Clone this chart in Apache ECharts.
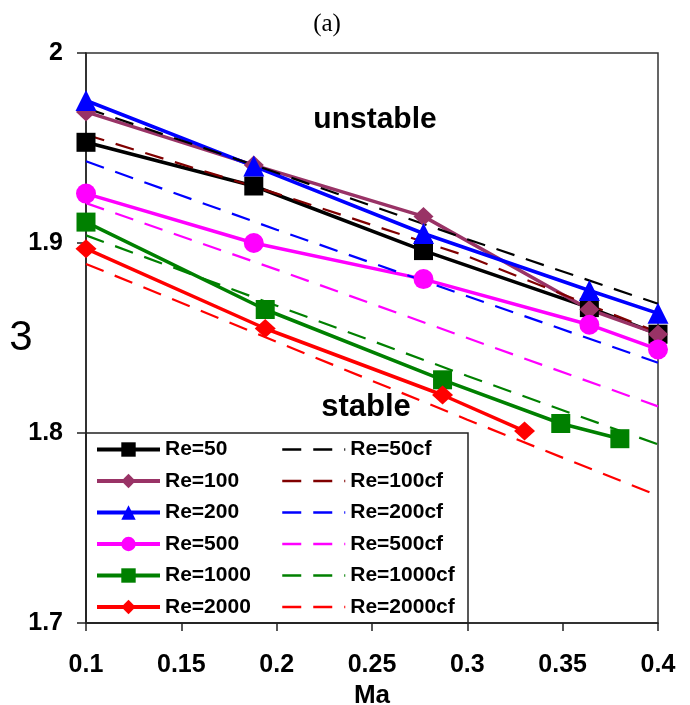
<!DOCTYPE html>
<html>
<head>
<meta charset="utf-8">
<script src="https://cdn.jsdelivr.net/npm/echarts@6/dist/echarts.min.js"></script>
<style>
  html, body { margin: 0; padding: 0; background: #fff; }
  #chart { width: 690px; height: 705px; }
</style>
</head>
<body>
<div id="chart"></div>
<script>
// Mach number positions of the computed points
const maRe50 = [0.1, 0.188, 0.277, 0.364, 0.4];
const maRe100 = [0.1, 0.188, 0.277, 0.364, 0.4];
const maRe200 = [0.1, 0.188, 0.277, 0.364, 0.4];
const maRe500 = [0.1, 0.188, 0.277, 0.364, 0.4];
const maRe1000 = [0.1, 0.194, 0.287, 0.349, 0.38];
const maRe2000 = [0.1, 0.194, 0.287, 0.33];

// Critical frequency values of the computed points
const wRe50 = [1.953, 1.930, 1.896, 1.866, 1.852];
const wRe100 = [1.969, 1.941, 1.914, 1.865, 1.852];
const wRe200 = [1.975, 1.9405, 1.905, 1.875, 1.863];
const wRe500 = [1.926, 1.900, 1.881, 1.857, 1.844];
const wRe1000 = [1.911, 1.865, 1.828, 1.805, 1.797];
const wRe2000 = [1.897, 1.855, 1.820, 1.801];

// Curve-fit lines
const maFit = [0.1, 0.2, 0.3, 0.4];
const wRe50cf = [1.971, 1.937, 1.902, 1.868];
const wRe100cf = [1.957, 1.926, 1.893, 1.853];
const wRe200cf = [1.943, 1.907, 1.872, 1.837];
const wRe500cf = [1.921, 1.886, 1.850, 1.814];
const wRe1000cf = [1.904, 1.867, 1.830, 1.794];
const wRe2000cf = [1.889, 1.848, 1.807, 1.767];

const xTicks = [0.1, 0.15, 0.2, 0.25, 0.3, 0.35, 0.4];
const yTicks = [1.7, 1.8, 1.9, 2];

const FONT = "'Liberation Sans', Arial, sans-serif";

const zip = (xs, ys) => xs.map((x, i) => [x, ys[i]]);

const solid = [
  { name: 'Re=50', color: '#000000', symbol: 'rect', size: 19, x: maRe50, y: wRe50 },
  { name: 'Re=100', color: '#993366', symbol: 'diamond', size: [20, 19], x: maRe100, y: wRe100 },
  { name: 'Re=200', color: '#0000FF', symbol: 'triangle', size: [21, 21], x: maRe200, y: wRe200 },
  { name: 'Re=500', color: '#FF00FF', symbol: 'circle', size: 20, x: maRe500, y: wRe500 },
  { name: 'Re=1000', color: '#008000', symbol: 'rect', size: 19, x: maRe1000, y: wRe1000 },
  { name: 'Re=2000', color: '#FF0000', symbol: 'diamond', size: [21, 19], x: maRe2000, y: wRe2000 }
];

const fits = [
  { name: 'Re=50cf', color: '#000000', y: wRe50cf },
  { name: 'Re=100cf', color: '#800000', y: wRe100cf },
  { name: 'Re=200cf', color: '#0000FF', y: wRe200cf },
  { name: 'Re=500cf', color: '#FF00FF', y: wRe500cf },
  { name: 'Re=1000cf', color: '#008000', y: wRe1000cf },
  { name: 'Re=2000cf', color: '#FF0000', y: wRe2000cf }
];

const series = [];
solid.forEach(s => {
  series.push({
    name: s.name,
    type: 'line',
    data: zip(s.x, s.y),
    symbol: s.symbol,
    symbolSize: s.size,
    showAllSymbol: true,
    lineStyle: { color: s.color, width: 3.5 },
    itemStyle: { color: s.color },
    emphasis: { disabled: true },
    animation: false
  });
});
fits.forEach(s => {
  series.push({
    name: s.name,
    type: 'line',
    data: zip(maFit, s.y),
    symbol: 'none',
    lineStyle: { color: s.color, width: 2.2, type: [19, 12] },
    itemStyle: { color: s.color },
    emphasis: { disabled: true },
    animation: false
  });
});

const legendText = { fontSize: 21, fontWeight: 'bold', color: '#000', fontFamily: FONT };

const chart = echarts.init(document.getElementById('chart'), null, { renderer: 'canvas' });
chart.setOption({
  backgroundColor: '#fff',
  animation: false,
  grid: {
    left: 86, right: 32, top: 53, bottom: 82,
    outerBoundsMode: 'none', containLabel: false,
    show: true, borderColor: '#333', borderWidth: 1.5, backgroundColor: 'transparent'
  },
  xAxis: {
    type: 'value',
    min: xTicks[0], max: xTicks[xTicks.length - 1], interval: 0.05,
    name: 'Ma', nameLocation: 'middle', nameGap: 56,
    nameTextStyle: { fontSize: 26, fontWeight: 'bold', color: '#000', fontFamily: FONT },
    axisLine: { show: true, onZero: false, lineStyle: { color: '#222', width: 1.5 } },
    axisTick: { show: true, inside: false, length: 8, lineStyle: { color: '#222', width: 1.5 } },
    axisLabel: { fontSize: 25, fontWeight: 'bold', color: '#000', margin: 30, fontFamily: FONT },
    splitLine: { show: false }
  },
  yAxis: {
    type: 'value',
    min: yTicks[0], max: yTicks[yTicks.length - 1], interval: 0.1,
    name: '3', nameLocation: 'middle', nameGap: 65, nameRotate: 0,
    nameMoveOverlap: false,
    nameTextStyle: { fontSize: 42, color: '#000', fontFamily: FONT, align: 'center', verticalAlign: 'middle' },
    axisLine: { show: true, onZero: false, lineStyle: { color: '#222', width: 1.5 } },
    axisTick: { show: true, inside: false, length: 9, lineStyle: { color: '#222', width: 1.5 } },
    axisLabel: { fontSize: 25, fontWeight: 'bold', color: '#000', margin: 23, fontFamily: FONT },
    splitLine: { show: false }
  },
  legend: [
    {
      orient: 'vertical', left: 90, top: 434, padding: 5,
      itemWidth: 63, itemHeight: 18, itemGap: 10.5,
      textStyle: legendText, selectedMode: false,
      lineStyle: { width: 4 },
      data: solid.map(s => s.name)
    },
    {
      orient: 'vertical', left: 276, top: 434, padding: 5,
      itemWidth: 63, itemHeight: 18, itemGap: 10.5,
      textStyle: legendText, selectedMode: false,
      lineStyle: { width: 2.5 },
      itemStyle: { opacity: 0 },
      data: fits.map(s => ({ name: s.name, itemStyle: { opacity: 0 } }))
    }
  ],
  graphic: [
    {
      type: 'rect', z: 1, silent: true,
      shape: { x: 86, y: 433, width: 382, height: 190 },
      style: { fill: 'none', stroke: '#222', lineWidth: 1.5 }
    },
    {
      type: 'text', z: 10, silent: true, x: 327, y: 24,
      style: { text: '(a)', fontSize: 25, fontFamily: "'Liberation Serif', 'Times New Roman', serif", fill: '#000', align: 'center', verticalAlign: 'middle' }
    },
    {
      type: 'text', z: 10, silent: true, x: 375, y: 120,
      style: { text: 'unstable', fontSize: 30, fontWeight: 'bold', fontFamily: FONT, fill: '#000', align: 'center', verticalAlign: 'middle' }
    },
    {
      type: 'text', z: 10, silent: true, x: 366, y: 407,
      style: { text: 'stable', fontSize: 31, fontWeight: 'bold', fontFamily: FONT, fill: '#000', align: 'center', verticalAlign: 'middle' }
    }
  ],
  series: series
});
</script>
</body>
</html>
